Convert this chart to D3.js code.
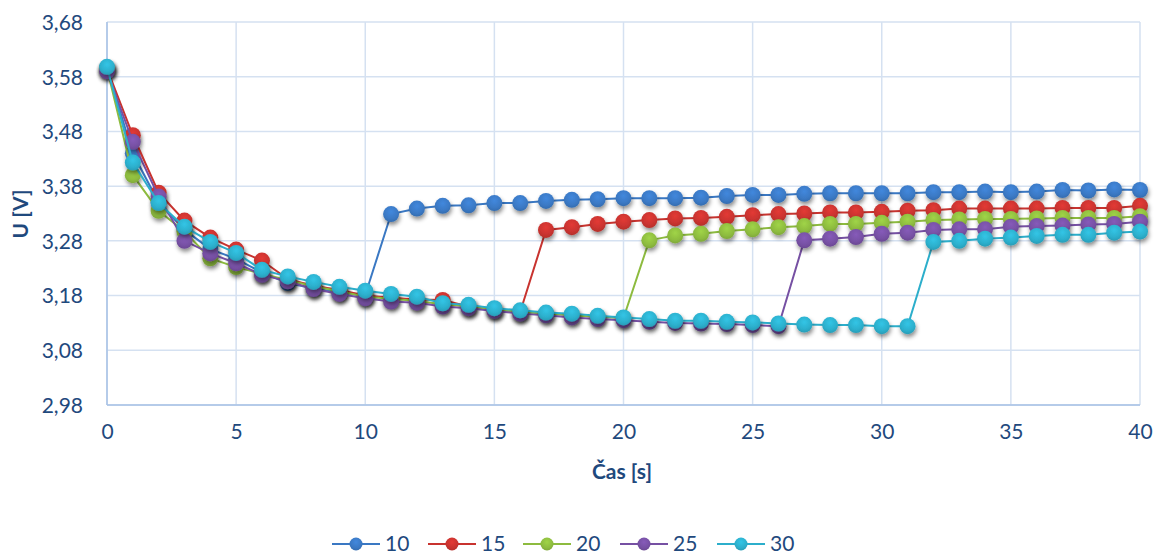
<!DOCTYPE html>
<html>
<head>
<meta charset="utf-8">
<script src="https://cdn.jsdelivr.net/npm/d3@7"></script>
<style>
  html, body { margin: 0; padding: 0; background: #fff; }
  svg { display: block; }
  text { font-family: Lato, "Open Sans", sans-serif; }
</style>
</head>
<body>
<svg id="chart" width="1154" height="554"></svg>
<script>
// ---- data ----
const times = d3.range(0, 41);
const seriesNames = ["10", "15", "20", "25", "30"];
const s10 = [3.595,3.440,3.350,3.300,3.265,3.247,3.222,3.203,3.193,3.186,3.181,3.329,3.339,3.344,3.345,3.349,3.349,3.353,3.355,3.356,3.358,3.358,3.358,3.359,3.362,3.364,3.364,3.366,3.367,3.367,3.367,3.367,3.369,3.369,3.370,3.369,3.370,3.373,3.372,3.374,3.373];
const s15 = [3.595,3.473,3.368,3.317,3.286,3.264,3.244,3.210,3.198,3.190,3.180,3.176,3.173,3.172,3.160,3.155,3.150,3.300,3.305,3.311,3.315,3.318,3.321,3.322,3.324,3.327,3.329,3.330,3.332,3.332,3.333,3.335,3.336,3.339,3.339,3.339,3.339,3.340,3.340,3.340,3.344];
const s20 = [3.595,3.400,3.335,3.297,3.248,3.232,3.220,3.208,3.197,3.188,3.178,3.174,3.170,3.164,3.160,3.155,3.150,3.147,3.144,3.141,3.139,3.281,3.290,3.293,3.298,3.301,3.305,3.307,3.311,3.311,3.313,3.315,3.318,3.319,3.320,3.320,3.321,3.322,3.322,3.322,3.325];
const s25 = [3.590,3.461,3.361,3.280,3.257,3.239,3.218,3.206,3.192,3.183,3.175,3.169,3.167,3.160,3.157,3.152,3.147,3.144,3.140,3.137,3.135,3.132,3.130,3.129,3.128,3.126,3.124,3.281,3.284,3.287,3.293,3.295,3.300,3.301,3.301,3.306,3.307,3.308,3.310,3.311,3.315];
const s30 = [3.598,3.423,3.349,3.306,3.278,3.258,3.227,3.215,3.205,3.196,3.189,3.183,3.178,3.166,3.163,3.157,3.153,3.149,3.147,3.143,3.140,3.137,3.134,3.134,3.132,3.131,3.129,3.127,3.126,3.126,3.124,3.124,3.278,3.280,3.284,3.286,3.289,3.291,3.291,3.295,3.297];
const seriesValues = [s10, s15, s20, s25, s30];
const xTicks = [0,5,10,15,20,25,30,35,40];
const yTicks = [2.98,3.08,3.18,3.28,3.38,3.48,3.58,3.68];
const xTitle = "Čas [s]";
const yTitle = "U [V]";

// ---- styles ----
const colors = ["#3A78C3", "#C8332F", "#8DBB3F", "#7650A3", "#2CAECB"];
const textColor = "#1F497D";

const svg = d3.select("#chart");
const pL = 107, pR = 1140, pT = 22, pB = 405;

const x = d3.scaleLinear().domain([0, 40]).range([pL, pR]);
const y = d3.scaleLinear().domain([2.98, 3.68]).range([pB, pT]);

const defs = svg.append("defs");
const f = defs.append("filter").attr("id", "shadow")
  .attr("x", "-50%").attr("y", "-50%").attr("width", "200%").attr("height", "220%");
f.append("feDropShadow").attr("dx", 1).attr("dy", 3).attr("stdDeviation", 2)
  .attr("flood-color", "#000").attr("flood-opacity", 0.45);

colors.forEach((c, i) => {
  const g = defs.append("radialGradient").attr("id", "grad" + i)
    .attr("cx", "50%").attr("cy", "35%").attr("r", "65%");
  g.append("stop").attr("offset", "0%").attr("stop-color", d3.color(c).brighter(0.35));
  g.append("stop").attr("offset", "70%").attr("stop-color", c);
  g.append("stop").attr("offset", "100%").attr("stop-color", d3.color(c).darker(0.3));
});

// grid
const grid = svg.append("g");
grid.selectAll("line.h").data(yTicks).join("line")
  .attr("x1", pL).attr("x2", pR)
  .attr("y1", d => y(d)).attr("y2", d => y(d))
  .attr("stroke", "#D5E1F1").attr("stroke-width", 1.5);
grid.selectAll("line.v").data(xTicks).join("line")
  .attr("x1", d => x(d)).attr("x2", d => x(d))
  .attr("y1", pT).attr("y2", pB)
  .attr("stroke", "#D5E1F1").attr("stroke-width", 1.5);

// axes lines
svg.append("line").attr("x1", pL).attr("x2", pL).attr("y1", pT).attr("y2", pB)
  .attr("stroke", "#A7C2E6").attr("stroke-width", 1.5);
svg.append("line").attr("x1", pL).attr("x2", pR).attr("y1", pB).attr("y2", pB)
  .attr("stroke", "#A7C2E6").attr("stroke-width", 1.5);

// axes via d3
const yAxis = svg.append("g").attr("transform", `translate(${pL - 24},0)`)
  .call(d3.axisLeft(y).tickValues(yTicks).tickSize(0).tickFormat(d => d.toFixed(2).replace(".", ",")));
yAxis.select(".domain").remove();
yAxis.selectAll("text").attr("fill", textColor).style("font-size", "21px").attr("x", 0).attr("dy", "0.35em");

const xAxis = svg.append("g").attr("transform", `translate(0,${pB + 19})`)
  .call(d3.axisBottom(x).tickValues(xTicks).tickSize(0).tickFormat(d => d));
xAxis.select(".domain").remove();
xAxis.selectAll("text").attr("fill", textColor).style("font-size", "21px").attr("y", 0).attr("dy", "0.71em");

// titles
svg.append("text").attr("x", 622).attr("y", 479)
  .attr("text-anchor", "middle").attr("fill", textColor)
  .style("font-size", "21px").style("font-weight", "bold").text(xTitle);
svg.append("text").attr("transform", "translate(28,214) rotate(-90)")
  .attr("text-anchor", "middle").attr("fill", textColor)
  .style("font-size", "21px").style("font-weight", "bold").text(yTitle);

// series
const line = d3.line().x((d, i) => x(times[i])).y(d => y(d));
seriesValues.forEach((vals, i) => {
  const g = svg.append("g");
  g.append("path").attr("d", line(vals)).attr("fill", "none")
    .attr("stroke", colors[i]).attr("stroke-width", 2);
  g.selectAll("circle").data(vals).join("circle")
    .attr("cx", (d, j) => x(times[j])).attr("cy", d => y(d)).attr("r", 8)
    .attr("fill", `url(#grad${i})`).attr("filter", "url(#shadow)");
});

// legend
const legendX = [332, 428, 523, 620, 717];
const legend = svg.append("g");
seriesNames.forEach((n, i) => {
  const lx = legendX[i], ly = 544;
  legend.append("line").attr("x1", lx).attr("x2", lx + 48).attr("y1", ly).attr("y2", ly)
    .attr("stroke", colors[i]).attr("stroke-width", 2);
  legend.append("circle").attr("cx", lx + 24).attr("cy", ly).attr("r", 6.5)
    .attr("fill", `url(#grad${i})`);
  legend.append("text").attr("x", lx + 53).attr("y", ly).attr("dy", "0.35em")
    .attr("fill", textColor).style("font-size", "21px").text(n);
});
</script>
</body>
</html>
